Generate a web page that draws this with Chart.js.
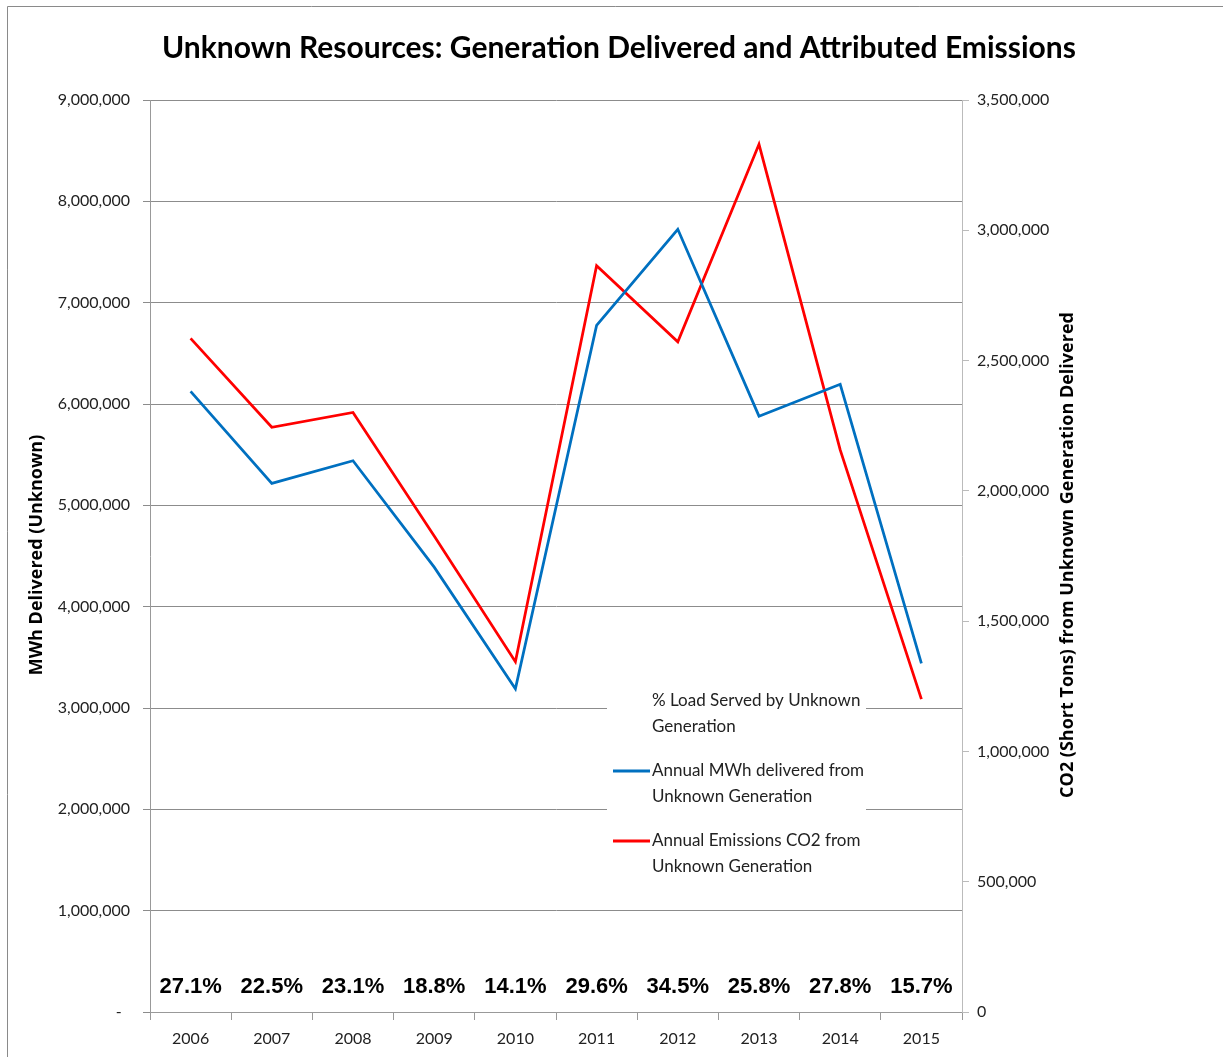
<!DOCTYPE html>
<html><head><meta charset="utf-8">
<script src="https://cdn.jsdelivr.net/npm/chart.js@4.4.1/dist/chart.umd.min.js"></script>
<style>html,body{margin:0;padding:0;background:#fff;}#wrap{position:absolute;left:0;top:0;width:1223px;height:1057px;}</style>
</head><body><div id="wrap"><canvas id="c" width="1223" height="1057"></canvas></div>
<script>
const years = ['2006','2007','2008','2009','2010','2011','2012','2013','2014','2015'];
const mwhDelivered = [6125000, 5217000, 5440000, 4390000, 3190000, 6776000, 7724000, 5880000, 6194000, 3440000];
const co2Tons = [2585000, 2244000, 2301000, 1827000, 1344000, 2864000, 2572000, 3330000, 2157000, 1201000];
const pctLoad = ['27.1%','22.5%','23.1%','18.8%','14.1%','29.6%','34.5%','25.8%','27.8%','15.7%'];
const titleText = 'Unknown Resources: Generation Delivered and Attributed Emissions';
const leftTitle = 'MWh Delivered (Unknown)';
const rightTitle = 'CO2 (Short Tons) from Unknown Generation Delivered';
const legendItems = [
  {lines:['% Load Served by Unknown','Generation'], color:null},
  {lines:['Annual MWh delivered from','Unknown Generation'], color:'#0070C0'},
  {lines:['Annual Emissions CO2 from','Unknown Generation'], color:'#FF0000'}
];

const fmt = v => v.toLocaleString('en-US');

const annot = {
  id:'annot',
  beforeDraw(chart){
    const ctx = chart.ctx;
    ctx.save();
    ctx.fillStyle = '#fff';
    ctx.fillRect(0,0,chart.width,chart.height);
    ctx.restore();
  },
  beforeDatasetsDraw(chart){
    const ctx = chart.ctx;
    ctx.save();
    ctx.fillStyle = '#fff';
    ctx.fillRect(607, 686, 259, 196);
    ctx.font = '17px Lato';
    ctx.fillStyle = '#222';
    ctx.textBaseline = 'middle';
    ctx.textAlign = 'left';
    const starts = [701, 771, 841];
    legendItems.forEach((it, i) => {
      const y0 = starts[i];
      it.lines.forEach((t, j) => ctx.fillText(t, 652, y0 + j*26));
      if (it.color) {
        ctx.strokeStyle = it.color;
        ctx.lineWidth = 3;
        ctx.beginPath(); ctx.moveTo(613, y0); ctx.lineTo(650, y0); ctx.stroke();
      }
    });
    ctx.restore();
  },
  afterDraw(chart){
    const ctx = chart.ctx;
    const xs = chart.scales.x;
    ctx.save();
    ctx.textAlign = 'center';
    ctx.textBaseline = 'middle';
    ctx.fillStyle = '#000';
    ctx.font = 'bold 30px Lato';
    ctx.fillText(titleText, 619, 48);
    ctx.font = 'bold 22px "Liberation Sans"';
    pctLoad.forEach((p, i) => ctx.fillText(p, xs.getPixelForValue(i), 987));
    ctx.font = 'bold 18px "Open Sans"';
    ctx.save(); ctx.translate(37, 555); ctx.rotate(-Math.PI/2); ctx.fillText(leftTitle, 0, 0); ctx.restore();
    ctx.save(); ctx.translate(1068, 555); ctx.rotate(-Math.PI/2); ctx.fillText(rightTitle, 0, 0); ctx.restore();
    ctx.strokeStyle = '#8a8a8a';
    ctx.lineWidth = 1;
    ctx.beginPath(); ctx.moveTo(7.5, 1057); ctx.lineTo(7.5, 6.5); ctx.lineTo(1223, 6.5); ctx.stroke();
    ctx.restore();
  }
};

new Chart(document.getElementById('c'), {
  type:'line',
  data:{
    labels: years,
    datasets:[
      {label:'Annual MWh delivered from Unknown Generation', data: mwhDelivered, yAxisID:'y', borderColor:'#0070C0', borderWidth:2.75, pointRadius:0, tension:0, fill:false},
      {label:'Annual Emissions CO2 from Unknown Generation', data: co2Tons, yAxisID:'y1', borderColor:'#FF0000', borderWidth:2.75, pointRadius:0, tension:0, fill:false}
    ]
  },
  options:{
    responsive:false, animation:false, devicePixelRatio:1,
    layout:{padding:{top:100, left:0, right:0, bottom:0}},
    plugins:{
      legend:{display:false}, tooltip:{enabled:false}, title:{display:false}
    },
    scales:{
      x:{
        offset:true,
        grid:{offset:true, drawOnChartArea:false, drawTicks:true, tickLength:8, color:'#999'},
        border:{color:'#999'},
        ticks:{font:{family:'Lato', size:16}, color:'#222', padding:9, maxRotation:0, autoSkip:false},
        afterFit(s){ s.height = 45; }
      },
      y:{
        position:'left', min:0, max:9000000,
        grid:{color:'#8c8c8c', tickLength:7},
        border:{color:'#999'},
        ticks:{stepSize:1000000, font:{family:'Lato', size:16}, color:'#222', padding:13,
          callback:v => v === 0 ? '-  ' : fmt(v)},
        afterFit(s){ s.width = 150; }
      },
      y1:{
        position:'right', min:0, max:3500000,
        grid:{drawOnChartArea:false, color:'#bbb', tickLength:7},
        border:{color:'#bbb'},
        ticks:{stepSize:500000, font:{family:'Lato', size:16}, color:'#222', padding:8,
          callback:v => fmt(v)},
        afterFit(s){ s.width = 261; }
      }
    }
  },
  plugins:[annot]
});
</script></body></html>
